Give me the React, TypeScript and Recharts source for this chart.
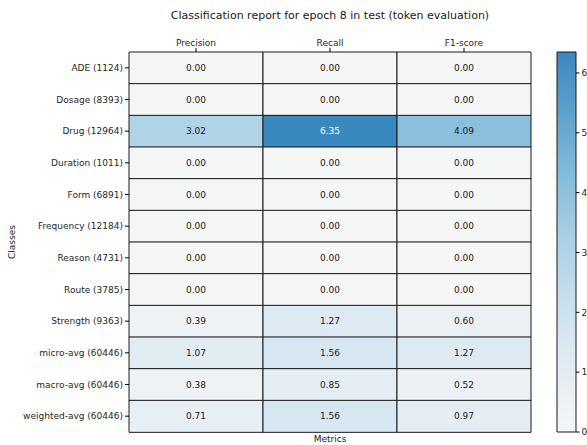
import { BarChart, Bar, XAxis, YAxis, Cell, LabelList, Label } from "recharts";

const classes = [
  "ADE (1124)", "Dosage (8393)", "Drug (12964)", "Duration (1011)", "Form (6891)",
  "Frequency (12184)", "Reason (4731)", "Route (3785)", "Strength (9363)",
  "micro-avg (60446)", "macro-avg (60446)", "weighted-avg (60446)",
];
const metrics = ["Precision", "Recall", "F1-score"];
const precision = [0, 0, 3.02, 0, 0, 0, 0, 0, 0.39, 1.07, 0.38, 0.71];
const recall = [0, 0, 6.35, 0, 0, 0, 0, 0, 1.27, 1.56, 0.85, 1.56];
const f1 = [0, 0, 4.09, 0, 0, 0, 0, 0, 0.6, 1.27, 0.52, 0.97];
const cbTicks = [0, 1, 2, 3, 4, 5, 6];
const vmax = 6.35;

// colormap stops (value -> colour), light grey to steel blue
const cmap: [number, string][] = [
  [0, "#f5f6f6"], [1.5, "#d9e8f1"], [3.0, "#b1d4e6"], [4.1, "#8bbfdc"], [6.35, "#3a88c0"],
];

const hex = (c: string) => [1, 3, 5].map((i) => parseInt(c.slice(i, i + 2), 16));
function colorFor(v: number) {
  for (let i = 1; i < cmap.length; i++) {
    const [v0, c0] = cmap[i - 1];
    const [v1, c1] = cmap[i];
    if (v <= v1 || i === cmap.length - 1) {
      const t = Math.max(0, Math.min(1, (v - v0) / (v1 - v0)));
      const a = hex(c0), b = hex(c1);
      const m = a.map((x, k) => Math.round(x + (b[k] - x) * t));
      return `rgb(${m[0]},${m[1]},${m[2]})`;
    }
  }
  return cmap[0][1];
}

const rows = classes.map((name, i) => ({
  name, p: precision[i], r: recall[i], f: f1[i], cP: 1, cR: 1, cF: 1,
}));
const series = [
  { span: "cP", key: "p", vals: precision },
  { span: "cR", key: "r", vals: recall },
  { span: "cF", key: "f", vals: f1 },
];

const font = "'DejaVu Sans', sans-serif";
const tickStyle = { fontSize: 9, fill: "#262626", fontFamily: font };

const cellLabel = (props: any) => {
  const { x, y, width, height, value } = props;
  return (
    <text x={x + width / 2} y={y + height / 2} dy="0.35em" textAnchor="middle"
      fontSize={9} fontFamily={font} fill={value > 5 ? "#ffffff" : "#1a1a1a"}>
      {Number(value).toFixed(2)}
    </text>
  );
};

const classTick = (props: any) => {
  const { x, y, payload } = props;
  return (
    <text x={x} y={y} dy="0.35em" textAnchor="end" fontSize={9} fontFamily={font} fill="#262626">
      {payload.value}
    </text>
  );
};

const classesLabel = (props: any) => {
  const { viewBox } = props;
  const cy = viewBox.y + viewBox.height / 2;
  const cx = 15;
  return (
    <text x={cx} y={cy} textAnchor="middle" fontSize={9} fontFamily={font} fill="#1a1a1a"
      transform={`rotate(-90 ${cx} ${cy})`}>
      Classes
    </text>
  );
};

export default function App() {
  return (
    <div style={{ position: "absolute", left: 0, top: 0, width: 587, height: 445, overflow: "hidden", background: "#fff", fontFamily: font }}>
      <div style={{ position: "absolute", left: 0, width: 660, top: 9, textAlign: "center", fontSize: 11, color: "#1a1a1a", lineHeight: "14px" }}>
        Classification report for epoch 8 in test (token evaluation)
      </div>
      <div style={{ position: "absolute", left: 0, width: 660, top: 433, textAlign: "center", fontSize: 9, color: "#1a1a1a", lineHeight: "12px" }}>
        Metrics
      </div>
      <div style={{ position: "absolute", left: 0, top: 0 }}>
        <BarChart width={587} height={445} data={rows} layout="vertical"
          margin={{ top: 22, right: 56, bottom: 13, left: 0 }} barCategoryGap={0} barGap={0}>
          <XAxis type="number" orientation="top" domain={[0, 3]} ticks={[0.5, 1.5, 2.5]}
            tickFormatter={(v: number) => metrics[Math.floor(v)]} axisLine={false}
            tickSize={4} tickLine={{ stroke: "#000" }} tick={tickStyle} height={30} interval={0} />
          <YAxis type="category" dataKey="name" width={129} axisLine={false} tickSize={4}
            tickLine={{ stroke: "#000" }} tick={classTick} interval={0}>
            <Label content={classesLabel} />
          </YAxis>
          {series.map((s) => (
            <Bar key={s.key} dataKey={s.span} stackId="m" isAnimationActive={false}>
              {s.vals.map((v, i) => (
                <Cell key={i} fill={colorFor(v)} stroke="#1a1a1a" strokeWidth={1} />
              ))}
              <LabelList dataKey={s.key} content={cellLabel} />
            </Bar>
          ))}
        </BarChart>
      </div>
      <div style={{ position: "absolute", left: 540, top: 0 }}>
        <BarChart width={60} height={445} data={[{ name: "cb", v: vmax }]}
          margin={{ top: 52, right: 13, bottom: 13, left: 17 }} barCategoryGap={0}>
          <defs>
            <linearGradient id="cbGrad" x1="0" y1="1" x2="0" y2="0">
              {cmap.map(([v, c]) => (
                <stop key={v} offset={v / vmax} stopColor={c} />
              ))}
            </linearGradient>
          </defs>
          <XAxis dataKey="name" hide />
          <YAxis orientation="right" type="number" domain={[0, vmax]} ticks={cbTicks}
            width={11} axisLine={false} tickSize={3.5} tickLine={{ stroke: "#000" }} tick={tickStyle} />
          <Bar dataKey="v" fill="url(#cbGrad)" stroke="#1a1a1a" strokeWidth={1} isAnimationActive={false} />
        </BarChart>
      </div>
    </div>
  );
}
